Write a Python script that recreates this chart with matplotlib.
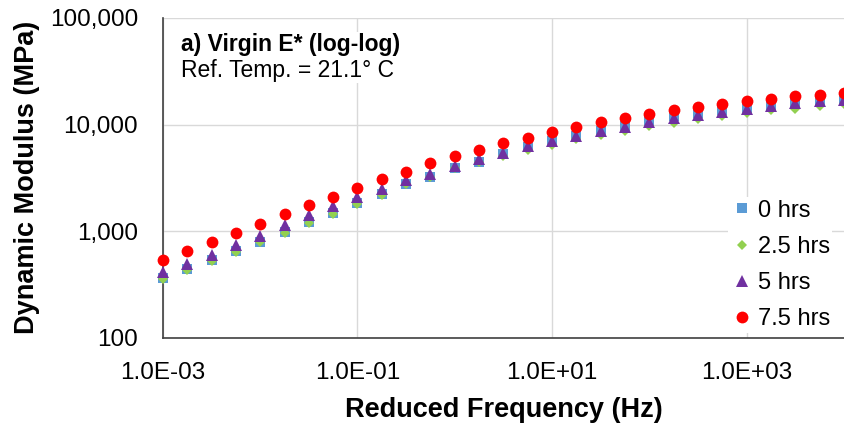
import matplotlib
matplotlib.use("Agg")
import matplotlib.pyplot as plt
import numpy as np
from matplotlib.ticker import FixedLocator, FuncFormatter, NullLocator

plt.rcParams['font.family'] = ['Liberation Sans', 'DejaVu Sans']

# Reduced frequency (Hz): quarter-decade steps from 1e-3 to 1e4
log_freq = [-3.0, -2.75, -2.5, -2.25, -2.0, -1.75, -1.5, -1.25, -1.0, -0.75,
            -0.5, -0.25, 0.0, 0.25, 0.5, 0.75, 1.0, 1.25, 1.5, 1.75,
            2.0, 2.25, 2.5, 2.75, 3.0, 3.25, 3.5, 3.75, 4.0]
freq = [10 ** v for v in log_freq]

e_0hrs = [361, 441, 536, 655, 801, 985, 1232, 1496, 1828, 2219,
          2747, 3243, 3881, 4481, 5243, 6166, 6982, 7888, 8653, 9639,
          10740, 11970, 12860, 13610, 14330, 15200, 15960, 16520, 17140]
e_25hrs = [354, 433, 525, 641, 784, 964, 1206, 1463, 1786, 2168,
           2768, 3243, 3881, 4417, 5058, 5805, 6415, 7244, 7946, 8734,
           9639, 10380, 11380, 11960, 12860, 13710, 14120, 14830, 15710]
e_5hrs = [417, 492, 601, 740, 904, 1138, 1411, 1724, 2110, 2506,
          3020, 3414, 4076, 4707, 5440, 6227, 6982, 7778, 8653, 9520,
          10540, 11550, 12400, 13140, 14030, 14830, 15960, 16520, 17140]
e_75hrs = [536, 650, 794, 972, 1180, 1443, 1762, 2110, 2560, 3060,
           3597, 4322, 5058, 5757, 6642, 7510, 8473, 9520, 10500, 11550,
           12590, 13610, 14640, 15610, 16510, 17500, 18400, 19060, 19780]

series_labels = ["0 hrs", "2.5 hrs", "5 hrs", "7.5 hrs"]
x_ticks = [1e-3, 1e-1, 1e1, 1e3]
x_tick_labels = ["1.0E-03", "1.0E-01", "1.0E+01", "1.0E+03"]
y_ticks = [100, 1000, 10000, 100000]

fig = plt.figure(figsize=(8.44, 4.24), dpi=100)
ax = fig.add_axes([0.193, 0.203, 0.807, 0.755])

styles = [
    dict(marker='s', color='#5B9BD5', ms=7),
    dict(marker='D', color='#92D050', ms=5.5),
    dict(marker='^', color='#7030A0', ms=8.5),
    dict(marker='o', color='#FF0000', ms=8.5),
]
data = [e_0hrs, e_25hrs, e_5hrs, e_75hrs]
for vals, lab, st in zip(data, series_labels, styles):
    ax.plot(freq, vals, linestyle='none', marker=st['marker'], color=st['color'],
            markersize=st['ms'], markeredgewidth=0, label=lab, clip_on=False, zorder=3)

ax.set_xscale('log')
ax.set_yscale('log')
ax.set_xlim(1e-3, 1e4)
ax.set_ylim(100, 100000)

ax.xaxis.set_major_locator(FixedLocator(x_ticks))
ax.xaxis.set_minor_locator(NullLocator())
ax.set_xticklabels(x_tick_labels)
ax.yaxis.set_major_locator(FixedLocator(y_ticks))
ax.yaxis.set_minor_locator(NullLocator())
ax.yaxis.set_major_formatter(FuncFormatter(lambda v, p: f"{int(round(v)):,}"))

ax.grid(True, which='major', color='#D9D9D9', linewidth=1.0, zorder=0)
ax.set_axisbelow(True)
for s in ['top', 'right']:
    ax.spines[s].set_visible(False)
for s in ['left', 'bottom']:
    ax.spines[s].set_color('#404040')
    ax.spines[s].set_linewidth(1.2)
ax.tick_params(axis='both', length=0, labelsize=17.5, colors='black')
ax.tick_params(axis='y', pad=18)
ax.tick_params(axis='x', pad=17.5)

ax.set_xlabel("Reduced Frequency (Hz)", fontsize=19.5, fontweight='bold', labelpad=9)
ax.set_ylabel("Dynamic Modulus (MPa)", fontsize=19.5, fontweight='bold', labelpad=7)

ax.text(0.0265, 0.916, "a) Virgin E* (log-log)", transform=ax.transAxes,
        fontsize=16.5, fontweight='bold', va='center', ha='left',
        bbox=dict(facecolor='white', edgecolor='none', pad=1))
ax.text(0.0265, 0.836, "Ref. Temp. = 21.1° C", transform=ax.transAxes,
        fontsize=16.5, va='center', ha='left',
        bbox=dict(facecolor='white', edgecolor='none', pad=1))

leg = ax.legend(loc='lower right', bbox_to_anchor=(1.0, -0.02), frameon=True,
                fontsize=17, handletextpad=0.15, handlelength=1.0,
                labelspacing=0.6, borderpad=0.1)
leg.get_frame().set_edgecolor('none')
leg.get_frame().set_facecolor('white')
leg.get_frame().set_alpha(1.0)

fig.savefig("out.png", dpi=100)
